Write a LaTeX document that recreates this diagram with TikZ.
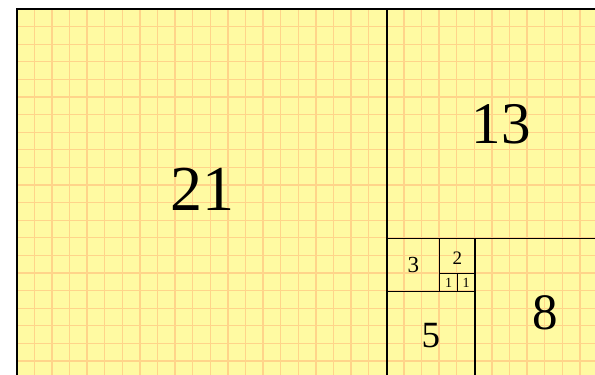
\documentclass[tikz,border=0pt]{standalone}
\usepackage{fontspec}
\setmainfont{Liberation Serif}
\definecolor{paper}{RGB}{255,250,162}
\definecolor{gridc}{RGB}{255,212,138}
\tikzset{
  gridline/.style={draw=gridc, line width=1.3pt},
  sq/.style={draw=black, line width=1.2pt, inner sep=0pt, anchor=north west, text=black},
  outer/.style={draw=black, line width=1.9pt}
}
\begin{document}
\begin{tikzpicture}[x=1pt,y=-1pt]
\useasboundingbox (0,0) rectangle (595,375);
\clip (0,0) rectangle (595,375);
\begin{scope}[shift={(16.7pt,-9pt)}, x=17.6pt, y=-17.6pt]
  \fill[paper] (0,0) rectangle (34,21);
  \foreach \i in {1,...,33} \draw[gridline] (\i,0) -- (\i,21);
  \foreach \j in {1,...,20} \draw[gridline] (0,\j) -- (34,\j);
  \node[sq, minimum size=21*17.6pt, font=\fontsize{64}{64}\selectfont, text depth=10pt] (s21) at (0,0) {21};
  \node[sq, minimum size=13*17.6pt, font=\fontsize{59}{59}\selectfont] (s13) at (21,0) {13};
  \node[sq, minimum size=8*17.6pt, font=\fontsize{51}{51}\selectfont, text height=41pt] (s8) at (26,13) {8};
  \node[sq, minimum size=5*17.6pt, font=\fontsize{37}{37}\selectfont] (s5) at (21,16) {5};
  \node[sq, minimum size=3*17.6pt, font=\fontsize{23}{23}\selectfont] (s3) at (21,13) {3};
  \node[sq, minimum size=2*17.6pt, font=\fontsize{19}{19}\selectfont, text height=16.5pt] (s2) at (24,13) {2};
  \node[sq, minimum size=1*17.6pt, font=\fontsize{14}{14}\selectfont] (s1a) at (24,15) {1};
  \node[sq, minimum size=1*17.6pt, font=\fontsize{14}{14}\selectfont] (s1b) at (25,15) {1};
  \draw[outer] (s21.south west) -- (s21.north west) -- (s13.north east);
\end{scope}
\end{tikzpicture}
\end{document}
